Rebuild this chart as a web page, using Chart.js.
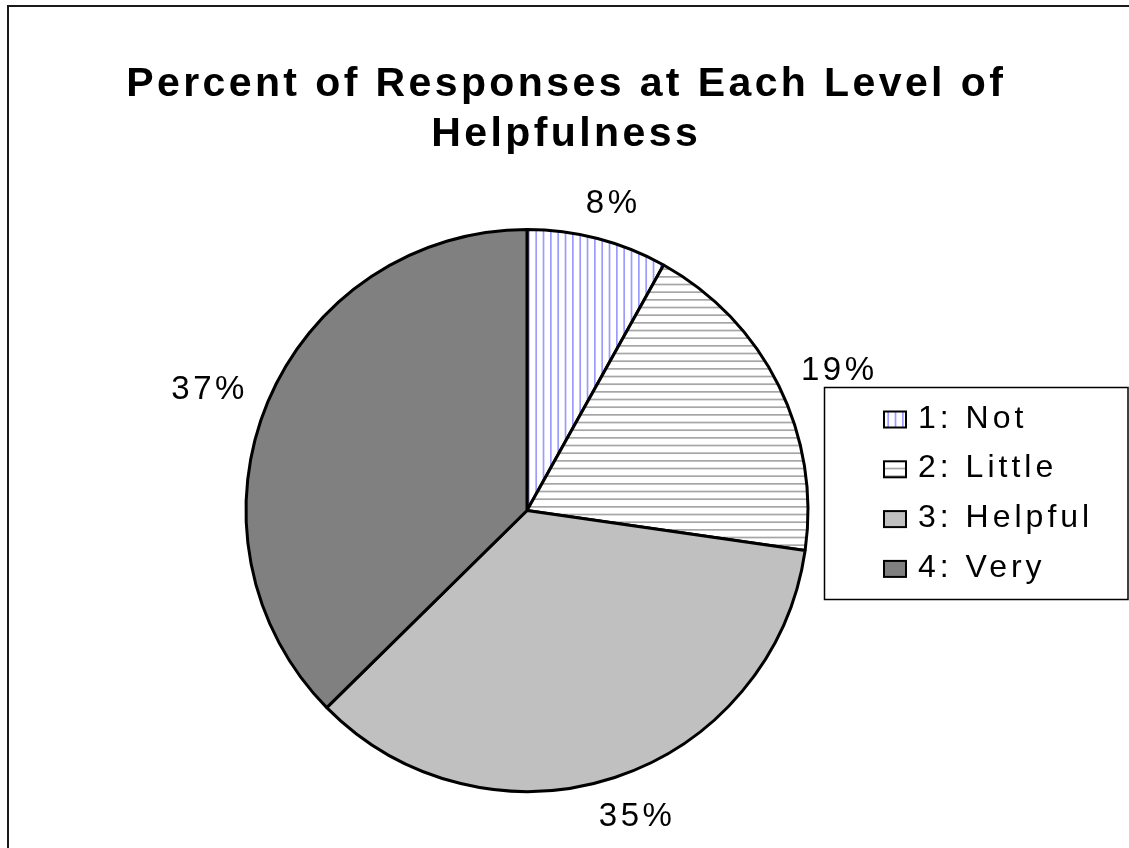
<!DOCTYPE html>
<html>
<head>
<meta charset="utf-8">
<title>Percent of Responses at Each Level of Helpfulness</title>
<script src="https://cdn.jsdelivr.net/npm/chart.js@4/dist/chart.umd.min.js"></script>
<style>
  html, body { margin: 0; padding: 0; background: #ffffff; }
  #wrap { width: 1129px; height: 848px; position: relative; }
</style>
</head>
<body>
<div id="wrap"><canvas id="c" width="1129" height="848"></canvas></div>
<script>
// Survey answers: share of responses for each helpfulness level (percent)
const categories = ['1: Not', '2: Little', '3: Helpful', '4: Very'];
const percents = [8, 19, 35, 37];
const titleLines = ['Percent of Responses at Each Level of', 'Helpfulness'];

const FONT = '"Liberation Sans", Arial, Helvetica, sans-serif';
const canvas = document.getElementById('c');
const ctx = canvas.getContext('2d');

// Fine stripe fills (white ground with thin coloured lines)
function makeStripes(vertical, color, period, count) {
  const size = Math.round(period * count);
  const pc = document.createElement('canvas');
  pc.width = vertical ? size : 4;
  pc.height = vertical ? 4 : size;
  const g = pc.getContext('2d');
  g.fillStyle = '#ffffff';
  g.fillRect(0, 0, pc.width, pc.height);
  g.fillStyle = color;
  for (let i = 0; i < count; i++) {
    const p = i * size / count;
    if (vertical) g.fillRect(p, 0, 1.7, pc.height);
    else g.fillRect(0, p, pc.width, 1.7);
  }
  return ctx.createPattern(pc, 'repeat');
}

const fills = [
  makeStripes(true, '#9c9cff', 7.33, 3),
  makeStripes(false, '#a6a6a6', 7.67, 3),
  '#c0c0c0',
  '#808080'
];

const decorations = {
  id: 'decorations',
  beforeDraw(chart) {
    const c = chart.ctx;
    c.save();
    c.fillStyle = '#ffffff';
    c.fillRect(0, 0, chart.width, chart.height);

    // two-line bold heading, centred on the whole canvas
    const ls = 3.4;
    c.font = 'bold 41px ' + FONT;
    c.letterSpacing = ls + 'px';
    c.fillStyle = '#000000';
    c.textAlign = 'center';
    c.textBaseline = 'middle';
    titleLines.forEach((line, i) => {
      c.fillText(line, chart.width / 2 + ls / 2, 85 + i * 50);
    });
    c.letterSpacing = '0px';
    c.restore();
  },
  afterDraw(chart) {
    const c = chart.ctx;
    c.save();

    // outer frame
    c.strokeStyle = '#1a1a1a';
    c.lineWidth = 2;
    c.strokeRect(8, 6, 1300, 1000);

    // value labels outside each slice
    const meta = chart.getDatasetMeta(0);
    const vals = chart.data.datasets[0].data;
    c.font = '33px ' + FONT;
    c.letterSpacing = '3.5px';
    c.fillStyle = '#000000';
    c.textAlign = 'center';
    c.textBaseline = 'alphabetic';
    const capH = 33 * 0.716;
    meta.data.forEach((arc, i) => {
      const txt = vals[i] + '%';
      const mid = (arc.startAngle + arc.endAngle) / 2;
      const r = arc.outerRadius + 27;
      const ax = arc.x + Math.cos(mid) * r;
      const ay = arc.y + Math.sin(mid) * r;
      const w = c.measureText(txt).width;
      const cx = ax + Math.cos(mid) * w / 2;
      const cy = ay + Math.sin(mid) * capH / 2;
      c.fillText(txt, cx + 2, cy + capH / 2);
    });

    // legend box
    c.letterSpacing = '0px';
    c.strokeStyle = '#000000';
    c.lineWidth = 1.5;
    c.strokeRect(824.5, 387.5, 303.5, 212);
    const bgs = chart.data.datasets[0].backgroundColor;
    c.font = '32px ' + FONT;
    c.letterSpacing = '4px';
    c.textAlign = 'left';
    chart.data.labels.forEach((lab, i) => {
      const base = 427.5 + i * 49.8;
      const sy = base - 16;
      c.fillStyle = bgs[i];
      c.fillRect(884, sy, 22, 16);
      c.lineWidth = 2;
      c.strokeStyle = '#000000';
      c.strokeRect(884, sy, 22, 16);
      c.fillStyle = '#000000';
      c.fillText(lab, 918, base);
    });
    c.letterSpacing = '0px';
    c.restore();
  }
};

new Chart(ctx, {
  type: 'pie',
  data: {
    labels: categories,
    datasets: [{
      data: percents,
      backgroundColor: fills,
      borderColor: '#000000',
      borderWidth: 3
    }]
  },
  options: {
    responsive: false,
    animation: false,
    devicePixelRatio: 1,
    radius: 281,
    layout: { padding: { left: 246, right: 321, top: 228, bottom: 55 } },
    plugins: {
      legend: { display: false },
      tooltip: { enabled: false },
      title: { display: false }
    }
  },
  plugins: [decorations]
});
</script>
</body>
</html>
